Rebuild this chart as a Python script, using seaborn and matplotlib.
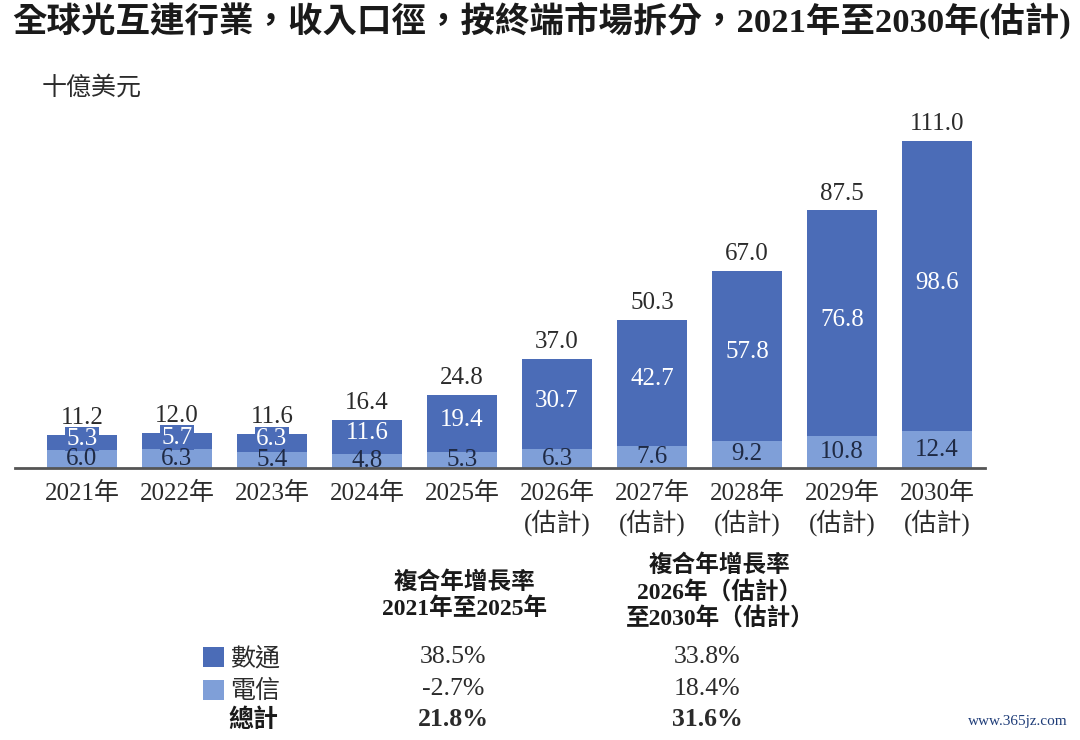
import numpy as np
import pandas as pd
import matplotlib
matplotlib.use('Agg')
import matplotlib.pyplot as plt
import seaborn as sns
from matplotlib.patches import Patch

sns.set_style('white')
plt.rcParams['font.family'] = ['Liberation Serif', 'Noto Sans CJK TC']

years = ['2021年', '2022年', '2023年', '2024年', '2025年',
         '2026年\n(估計)', '2027年\n(估計)', '2028年\n(估計)', '2029年\n(估計)', '2030年\n(估計)']
datacom = [5.3, 5.7, 6.3, 11.6, 19.4, 30.7, 42.7, 57.8, 76.8, 98.6]
telecom = [6.0, 6.3, 5.4, 4.8, 5.3, 6.3, 7.6, 9.2, 10.8, 12.4]
totals = [11.2, 12.0, 11.6, 16.4, 24.8, 37.0, 50.3, 67.0, 87.5, 111.0]

seg_names = ['數通', '電信']
cagr_hist = ['38.5%', '-2.7%', '21.8%']
cagr_fcst = ['33.8%', '18.4%', '31.6%']

dark = '#4b6cb7'
light = '#7f9fd8'
txt = '#2b2b2b'

df = pd.DataFrame({'year': years, 'datacom': datacom, 'telecom': telecom, 'total': totals})

fig = plt.figure(figsize=(10.8, 7.4), dpi=100)
ax = fig.add_axes([15 / 1080, 272 / 740, 970 / 1080, 368 / 740])

sns.barplot(data=df, x='year', y='total', color=dark, width=0.74, saturation=1,
            linewidth=0, ax=ax)
sns.barplot(data=df, x='year', y='telecom', color=light, width=0.74, saturation=1,
            linewidth=0, ax=ax)

ax.set_xlim(-0.705, 9.505)
ax.set_ylim(0, 125)
for s in ['top', 'left', 'right']:
    ax.spines[s].set_visible(False)
ax.spines['bottom'].set_color('#555555')
ax.spines['bottom'].set_linewidth(2)
ax.set_yticks([])
ax.set_xlabel('')
ax.set_ylabel('')
ax.tick_params(axis='x', length=0, pad=10, labelsize=18, labelcolor=txt)
for lab in ax.get_xticklabels():
    lab.set_linespacing(1.2)

for i in range(len(years)):
    ax.text(i, totals[i] + 2, f'{totals[i]:.1f}', ha='center', va='bottom', fontsize=18, color=txt)
    ax.text(i, telecom[i] + (totals[i] - telecom[i]) / 2 + 1.2, f'{datacom[i]:.1f}',
            ha='center', va='center', fontsize=18, color='white',
            bbox=dict(boxstyle='square,pad=0.05', fc=dark, ec='none'))
    ax.text(i, telecom[i] / 2, f'{telecom[i]:.1f}', ha='center', va='center',
            fontsize=18, color='#1f2a44')

fig.text(12 / 1080, 1 - 20 / 740,
         '全球光互連行業，收入口徑，按終端市場拆分，2021年至2030年(估計)',
         fontsize=24.8, fontweight='bold', color='#1a1a1a', ha='left', va='center')
fig.text(42 / 1080, 1 - 88 / 740, '十億美元', fontsize=18, color=txt, ha='left', va='center')

# CAGR table
fig.text(465 / 1080, 1 - 596 / 740, '複合年增長率\n2021年至2025年', fontsize=17,
         fontweight='bold', color='#1a1a1a', ha='center', va='center', linespacing=1.2)
fig.text(720 / 1080, 1 - 592 / 740, '複合年增長率\n2026年（估計）\n至2030年（估計）', fontsize=17,
         fontweight='bold', color='#1a1a1a', ha='center', va='center', linespacing=1.2)

handles = [Patch(facecolor=dark, edgecolor='none'), Patch(facecolor=light, edgecolor='none')]
fig.legend(handles, seg_names, loc='upper left', bbox_to_anchor=(203 / 1080, 1 - 647 / 740),
           frameon=False, fontsize=18, handlelength=0.85, handleheight=0.85,
           handletextpad=0.25, labelspacing=0.36, labelcolor=txt, borderpad=0,
           borderaxespad=0)
fig.text(228 / 1080, 1 - 720 / 740, '總計', fontsize=18, fontweight='bold', color='#1a1a1a',
         ha='left', va='center')

row_y = [657, 689, 720]
for k in range(3):
    w = 'bold' if k == 2 else 'normal'
    fig.text(453 / 1080, 1 - row_y[k] / 740, cagr_hist[k], fontsize=18.5, fontweight=w,
             color=txt, ha='center', va='center')
    fig.text(707 / 1080, 1 - row_y[k] / 740, cagr_fcst[k], fontsize=18.5, fontweight=w,
             color=txt, ha='center', va='center')

fig.text(1068 / 1080, 1 - 722 / 740, 'www.365jz.com', fontsize=11, color='#1e3c78',
         ha='right', va='center')

fig.savefig('out.png', dpi=100)
